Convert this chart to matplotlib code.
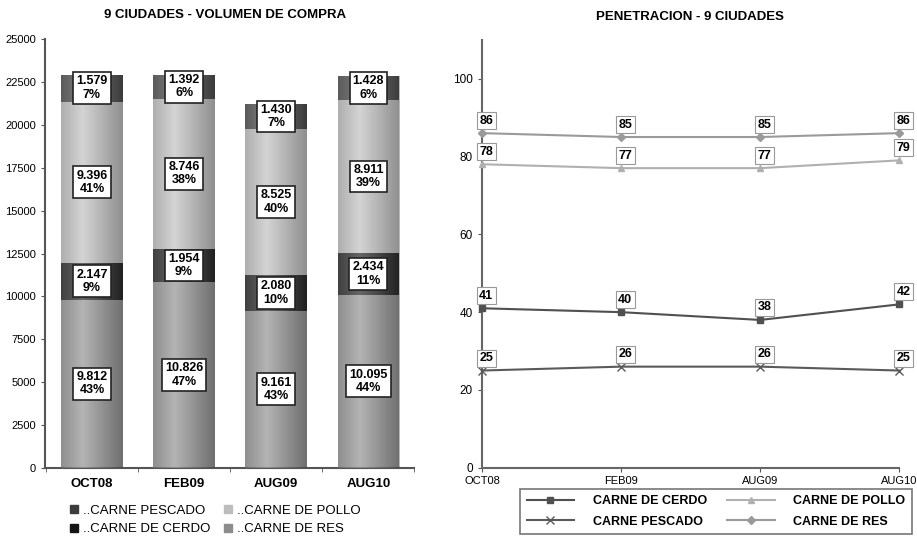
import numpy as np
import matplotlib
matplotlib.use("Agg")
from matplotlib import pyplot as plt
from matplotlib.patches import Patch

plt.rcParams['font.family'] = ['Liberation Sans Narrow', 'Liberation Sans', 'DejaVu Sans']

periodos = ['OCT08', 'FEB09', 'AUG09', 'AUG10']

# volumen de compra (stack de abajo hacia arriba)
vol_res = [9812, 10826, 9161, 10095]
vol_cerdo = [2147, 1954, 2080, 2434]
vol_pollo = [9396, 8746, 8525, 8911]
vol_pescado = [1579, 1392, 1430, 1428]
pct_res = [43, 47, 43, 44]
pct_cerdo = [9, 9, 10, 11]
pct_pollo = [41, 38, 40, 39]
pct_pescado = [7, 6, 7, 6]

# penetracion
pen_cerdo = [41, 40, 38, 42]
pen_pescado = [25, 26, 26, 25]
pen_pollo = [78, 77, 77, 79]
pen_res = [86, 85, 85, 86]

fig = plt.figure(figsize=(9.17, 5.44), dpi=100)

# ---------- izquierda: barras apiladas ----------
ax1 = fig.add_axes([0.049, 0.140, 0.403, 0.788])
x = np.arange(len(periodos))
ancho = 0.67
serie = [
    ('..CARNE DE RES', vol_res, pct_res, '#8c8c8c'),
    ('..CARNE DE CERDO', vol_cerdo, pct_cerdo, '#141414'),
    ('..CARNE DE POLLO', vol_pollo, pct_pollo, '#bdbdbd'),
    ('..CARNE PESCADO', vol_pescado, pct_pescado, '#3c3c3c'),
]
grad = np.linspace(0, 1, 64)
grad = (1 - np.abs(grad - 0.35) / 0.65)
grad = grad.reshape(1, -1)
base = np.zeros(len(periodos))
for nombre, vals, pcts, color in serie:
    bars = ax1.bar(x, vals, ancho, bottom=base, color=color, edgecolor='none', zorder=2)
    for b in bars:
        x0, y0 = b.get_x(), b.get_y()
        w, h = b.get_width(), b.get_height()
        im = ax1.imshow(grad, cmap='gray', alpha=0.35, aspect='auto',
                        extent=[x0, x0 + w, y0, y0 + h], zorder=3,
                        vmin=-0.3, vmax=1.0)
        im.set_clip_path(b)
    for i in range(len(periodos)):
        ax1.text(x[i], base[i] + vals[i] / 2, f"{vals[i] / 1000:.3f}\n{pcts[i]}%",
                 ha='center', va='center', fontsize=9, fontweight='bold',
                 linespacing=1.15, zorder=5,
                 bbox=dict(boxstyle='square,pad=0.25', fc='white', ec='#222222', lw=1.2))
    base = base + np.array(vals)

ax1.set_xlim(-0.51, 3.49)
ax1.set_ylim(0, 25000)
ax1.set_yticks(np.arange(0, 25001, 2500))
ax1.tick_params(axis='y', labelsize=8, length=3, color='#555555')
ax1.set_xticks(x)
ax1.set_xticklabels(periodos, fontsize=9.5, fontweight='bold')
ax1.set_xticks(np.arange(-0.5, 3.6, 1), minor=True)
ax1.tick_params(axis='x', which='major', length=0, pad=7)
ax1.tick_params(axis='x', which='minor', length=3, color='#555555')
for s in ['top', 'right']:
    ax1.spines[s].set_visible(False)
for s in ['left', 'bottom']:
    ax1.spines[s].set_color('#555555')
    ax1.spines[s].set_linewidth(1.5)
fig.text(0.245, 0.972, '9 CIUDADES - VOLUMEN DE COMPRA', ha='center', va='center',
         fontsize=9.5, fontweight='bold')

leg_items = [Patch(color='#3c3c3c', label='..CARNE PESCADO'),
             Patch(color='#141414', label='..CARNE DE CERDO'),
             Patch(color='#bdbdbd', label='..CARNE DE POLLO'),
             Patch(color='#8c8c8c', label='..CARNE DE RES')]
fig.legend(handles=leg_items, ncol=2, loc='center', bbox_to_anchor=(0.235, 0.044),
           frameon=False, fontsize=9.5, handlelength=0.6, handleheight=0.6,
           handletextpad=0.4, columnspacing=1.0, labelspacing=0.5)

# ---------- derecha: lineas ----------
ax2 = fig.add_axes([0.5256, 0.140, 0.455, 0.787])
lineas = [
    ('CARNE DE CERDO', pen_cerdo, '#505050', 's', 5),
    ('CARNE PESCADO', pen_pescado, '#5a5a5a', 'x', 6),
    ('CARNE DE POLLO', pen_pollo, '#b0b0b0', '^', 5),
    ('CARNE DE RES', pen_res, '#9a9a9a', 'D', 4),
]
handles = []
for nombre, vals, color, mk, ms in lineas:
    ln, = ax2.plot(x, vals, color=color, marker=mk, markersize=ms, lw=1.5,
                   label=nombre, zorder=3, clip_on=False)
    handles.append(ln)
    for i in range(len(periodos)):
        ax2.annotate(str(vals[i]), (x[i], vals[i]), xytext=(3, 9), textcoords='offset points',
                     ha='center', va='center', fontsize=9, fontweight='bold', zorder=5,
                     bbox=dict(boxstyle='square,pad=0.2', fc='white', ec='#999999', lw=0.8))
ax2.set_xlim(0, 3)
ax2.set_ylim(0, 110)
ax2.set_yticks(np.arange(0, 101, 20))
ax2.set_xticks(x)
ax2.set_xticklabels(periodos, fontsize=8)
ax2.tick_params(axis='both', labelsize=8, length=3, color='#555555')
ax2.tick_params(axis='x', pad=3)
ax2.tick_params(axis='y', labelsize=8.5)
for s in ['top', 'right']:
    ax2.spines[s].set_visible(False)
for s in ['left', 'bottom']:
    ax2.spines[s].set_color('#666666')
    ax2.spines[s].set_linewidth(1.5)
fig.text(0.752, 0.968, 'PENETRACION - 9 CIUDADES', ha='center', va='center',
         fontsize=9.5, fontweight='bold')

leg2 = fig.legend(handles=handles, ncol=2, loc='center', bbox_to_anchor=(0.781, 0.060),
                  frameon=True, fancybox=False, handlelength=3.8,
                  handletextpad=1.5, columnspacing=1.6, labelspacing=0.7,
                  borderpad=0.5,
                  prop={'weight': 'bold', 'size': 9,
                        'family': ['Liberation Sans', 'DejaVu Sans']})
leg2.get_frame().set_edgecolor('#555555')
leg2.get_frame().set_linewidth(1.2)

fig.savefig('out.png', dpi=100)
